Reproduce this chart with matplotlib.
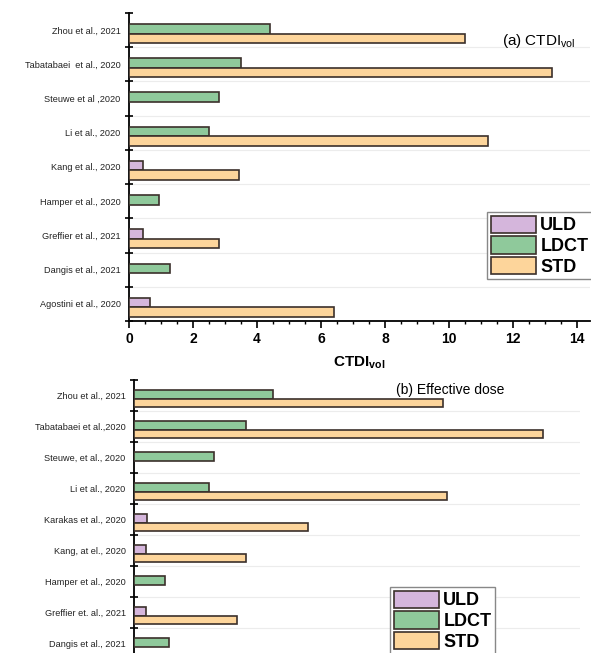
import numpy as np
import matplotlib
matplotlib.use("Agg")
from matplotlib import pyplot as plt
from matplotlib.patches import Patch
from matplotlib.ticker import MultipleLocator

plt.rcParams['font.family'] = ['Liberation Sans', 'DejaVu Sans']
plt.rcParams['mathtext.fontset'] = 'custom'
plt.rcParams['mathtext.rm'] = 'Liberation Sans'
plt.rcParams['mathtext.bf'] = 'Liberation Sans:bold'

# (a) CTDIvol per study; None = not reported
studies_a = ['Zhou et al., 2021', 'Tabatabaei  et al., 2020', 'Steuwe et al ,2020',
             'Li et al., 2020', 'Kang et al., 2020', 'Hamper et al., 2020',
             'Greffier et al., 2021', 'Dangis et al., 2021', 'Agostini et al., 2020']
uld_a = [None, None, None, None, 0.43, None, 0.43, None, 0.66]
ldct_a = [4.4, 3.5, 2.8, 2.5, None, 0.93, None, 1.28, None]
std_a = [10.5, 13.2, None, 11.2, 3.45, None, 2.8, None, 6.4]

# (b) effective dose per study
studies_b = ['Zhou et al., 2021', 'Tabatabaei et al.,2020', 'Steuwe, et al., 2020',
             'Li et al., 2020', 'Karakas et al., 2020', 'Kang, at el., 2020',
             'Hamper et al., 2020', 'Greffier et. al., 2021', 'Dangis et al., 2021']
uld_b = [None, None, None, None, 0.42, 0.39, None, 0.39, None]
ldct_b = [4.48, 3.6, 2.58, 2.42, None, None, 1.0, None, 1.13]
std_b = [9.97, 13.2, None, 10.1, 5.61, 3.61, None, 3.32, None]

c_uld = '#d5b6dc'
c_ldct = '#8fc99b'
c_std = '#fdd59b'
edge = '#3b302b'

W, H = 591, 653
fig = plt.figure(figsize=(W / 100, H / 100), dpi=100)


def panel(ax, studies, uld, ldct, std, nslots):
    y = np.arange(len(studies))
    h = 0.28
    for i in y:
        if uld[i] is not None:
            ax.barh(i - 0.04, uld[i], h, color=c_uld, edgecolor=edge, lw=1.2, zorder=3)
        if ldct[i] is not None:
            ax.barh(i - 0.04, ldct[i], h, color=c_ldct, edgecolor=edge, lw=1.2, zorder=3)
        if std[i] is not None:
            ax.barh(i + 0.24, std[i], h, color=c_std, edgecolor=edge, lw=1.2, zorder=3)
    ax.set_ylim(nslots - 0.5, -0.5)
    ax.set_xlim(0, 14.4)
    ax.set_yticks(y)
    ax.set_yticklabels(studies, fontsize=6.6, color='#222222')
    ax.tick_params(axis='y', length=0, pad=6)
    bounds = np.arange(-0.5, nslots, 1.0)
    ax.set_yticks(bounds, minor=True)
    ax.tick_params(axis='y', which='minor', direction='inout', length=6, width=1.2)
    for b in bounds[1:]:
        ax.axhline(b, color='#ececec', lw=0.8, zorder=0)
    ax.xaxis.set_major_locator(MultipleLocator(2))
    ax.xaxis.set_minor_locator(MultipleLocator(0.5))
    ax.tick_params(axis='x', which='major', direction='out', length=5, width=1.2,
                   labelsize=10, pad=3)
    ax.tick_params(axis='x', which='minor', direction='out', length=2.5, width=1.0)
    for lab in ax.get_xticklabels():
        lab.set_fontweight('bold')
    for s in ['top', 'right']:
        ax.spines[s].set_visible(False)
    for s in ['left', 'bottom']:
        ax.spines[s].set_linewidth(1.3)


ax1 = fig.add_axes([129 / W, 1 - 321 / H, (590 - 129) / W, (321 - 13) / H])
panel(ax1, studies_a, uld_a, ldct_a, std_a, 9)
ax1.set_xlabel(r'$\mathbf{CTDI}_{\mathbf{vol}}$', fontsize=11, labelpad=6)
fig.text(502 / W, 1 - 41 / H, r'(a) CTDI$_{\mathrm{vol}}$', fontsize=11, va='center')

# lower panel runs past the bottom edge of the figure
ax2 = fig.add_axes([134 / W, 1 - 690 / H, (580 - 134) / W, (690 - 380) / H])
panel(ax2, studies_b, uld_b, ldct_b, std_b, 10)
ax2.tick_params(axis='x', labelbottom=False)
fig.text(396 / W, 1 - 390 / H, '(b) Effective dose', fontsize=10, va='center')

handles = [Patch(facecolor=c_uld, edgecolor=edge, lw=1.2, label='ULD'),
           Patch(facecolor=c_ldct, edgecolor=edge, lw=1.2, label='LDCT'),
           Patch(facecolor=c_std, edgecolor=edge, lw=1.2, label='STD')]
leg_kw = dict(handlelength=2.5, handleheight=1.1, labelspacing=0.1,
              handletextpad=0.25, borderpad=0.2, borderaxespad=0, fancybox=False,
              framealpha=1, edgecolor='#888888', prop={'weight': 'bold', 'size': 13})
fig.legend(handles=handles, loc='upper left', bbox_to_anchor=(487 / W, 1 - 212 / H), **leg_kw)
fig.legend(handles=handles, loc='upper left', bbox_to_anchor=(390 / W, 1 - 587 / H), **leg_kw)

fig.savefig('out.png', dpi=100)
